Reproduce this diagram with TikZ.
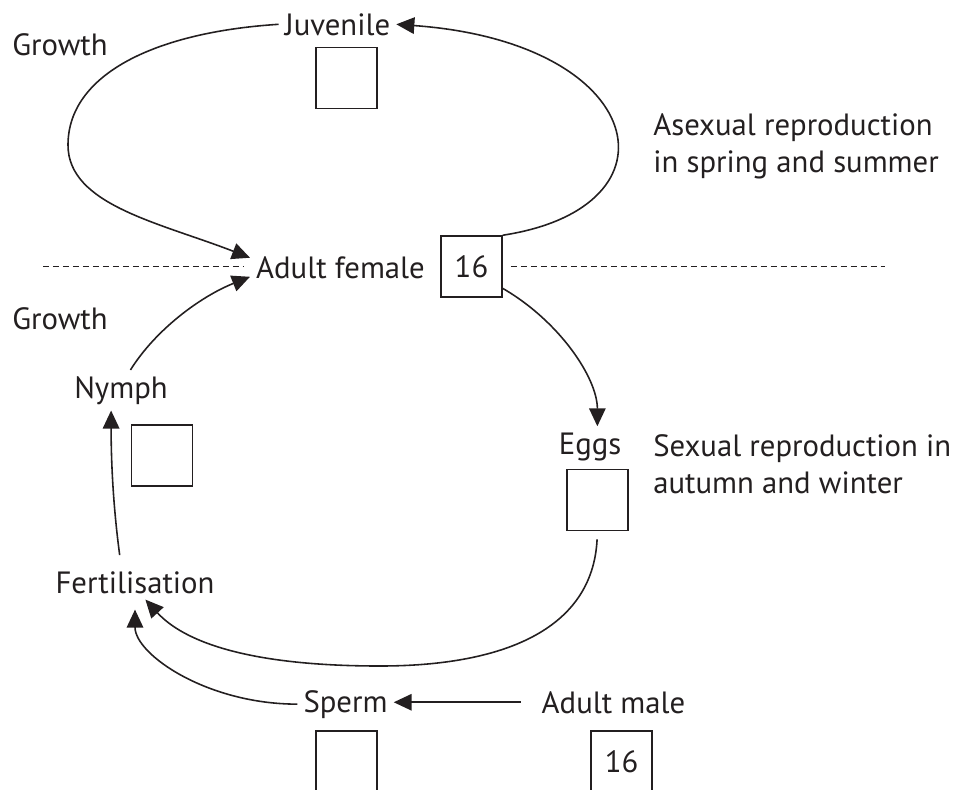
\documentclass[tikz,border=0pt]{standalone}
\usepackage{fontspec}
\setmainfont{PT Sans}
\usetikzlibrary{arrows.meta}
\definecolor{ink}{HTML}{231F20}
\begin{document}
\begin{tikzpicture}[x=0.02cm,y=-0.02cm]
        \tikzset{every node/.style={font=\fontsize{17.5}{21}\selectfont,text=ink},
          lbl/.style={anchor=base},
          box/.style={draw=ink,line width=0.9pt,minimum size=1.22cm,inner sep=0pt},
          arr/.style={draw=ink,line width=0.9pt,-{Triangle[length=0.36cm,width=0.33cm]}},
          divider/.style={draw=ink,line width=0.85pt,dash pattern=on 0.12cm off 0.08cm}}
        \useasboundingbox (0,0) rectangle (960,789);
        \clip (0,0) rectangle (960,789);
        % stages
        \node[lbl] (growthtop) at (60,55) {Growth};
        \node[lbl] (juv) at (337.5,35) {Juvenile};
        \node[lbl] (female) at (340.5,278) {Adult female};
        \node[lbl] (growthlow) at (60,329) {Growth};
        \node[lbl] (nymph) at (121,398) {Nymph};
        \node[lbl] (fert) at (135,593) {Fertilisation};
        \node[lbl] (eggs) at (590,454) {Eggs};
        \node[lbl] (sperm) at (345.5,712) {Sperm};
        \node[lbl] (male) at (613.5,713) {Adult male};
        \node[anchor=north west,inner sep=0pt,align=left] (asex) at (653,113)
          {Asexual reproduction\\in spring and summer};
        \node[anchor=north west,inner sep=0pt,align=left] (sex) at (653,434)
          {Sexual reproduction in\\autumn and winter};
        % chromosome boxes
        \node[box] (juvbox) at (346.5,78) {};
        \node[box] (fbox) at (471.5,266.5) {16};
        \node[box] (nbox) at (162,455.5) {};
        \node[box] (ebox) at (597.5,500) {};
        \node[box] (sbox) at (346.5,761.5) {};
        \node[box] (mbox) at (621.5,761.5) {16};
        % season line
        \coordinate (divl) at (43,266.5);
        \coordinate (divr) at (885,266.5);
        \draw[divider,shorten >=0.12cm] (divl) -- (divl -| female.west);
        \draw[divider,shorten <=0.16cm] (fbox.east) -- (divr);
        % arrows
        \coordinate (bend) at (68,145);
        \coordinate (dip) at (380,666);
        \draw[arr] (fbox.north east) .. controls +(183,-28) and +(252,18) .. (juv.east);
        \draw[arr] (juv.west) .. controls +(-125,8) and +(0,-70) .. (bend)
          .. controls +(0,60) and +(-90,-35) .. (female.174);
        \draw[arr] (nymph.65) .. controls +(25,-40) and +(-50,20) .. (female.186);
        \draw[arr,shorten <=0.2cm] (fert.129) .. controls +(-8,-60) and +(0,50) .. (nymph.244);
        \draw[arr] (fbox.-35) .. controls +(57,33) and +(0,-48) .. (eggs.70);
        \draw[arr,shorten <=0.16cm] (ebox.south) .. controls +(-5,100) and +(120,0) .. (dip)
          .. controls +(-150,0) and +(32,35) .. (fert.-59);
        \draw[arr,shorten >=0.2cm] (sperm.west) .. controls +(-90,0) and +(0,55) .. (fert.south);
        \draw[arr,shorten <=0.3cm] (male.west) -- (sperm.east |- male.west);
\end{tikzpicture}
\end{document}
